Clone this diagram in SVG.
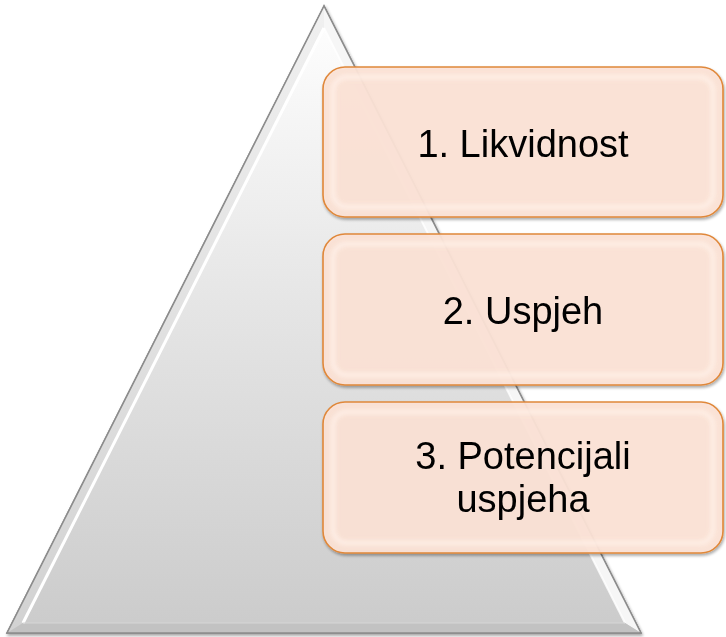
<svg xmlns="http://www.w3.org/2000/svg" width="726" height="637" viewBox="0 0 726 637">
<defs>
<linearGradient id="triFill" x1="0" y1="0" x2="0" y2="1">
<stop offset="0" stop-color="#ffffff"/>
<stop offset="0.5" stop-color="#e4e4e4"/>
<stop offset="1" stop-color="#cbcbcb"/>
</linearGradient>
<linearGradient id="leftBand" x1="0" y1="0" x2="0" y2="1">
<stop offset="0" stop-color="#f0f0f0"/>
<stop offset="1" stop-color="#d2d2d2"/>
</linearGradient>
<filter id="shadow" x="-10%" y="-10%" width="120%" height="120%">
<feGaussianBlur in="SourceAlpha" stdDeviation="1.5"/>
<feOffset dx="1" dy="2"/>
<feComponentTransfer><feFuncA type="linear" slope="0.35"/></feComponentTransfer>
<feMerge><feMergeNode/><feMergeNode in="SourceGraphic"/></feMerge>
</filter>
<filter id="soft"><feGaussianBlur stdDeviation="2"/></filter>
</defs>
<style>
.box{fill:#fde3d6;fill-opacity:0.93;stroke:#e0883a;stroke-width:1.6}
.inner{fill:none;stroke:#fff1e9;stroke-width:5;opacity:0.8}
.lbl{font-family:"Liberation Sans",Arial,sans-serif;font-size:38px;fill:#000;text-anchor:middle}
</style>
<g id="pyramid" filter="url(#shadow)">
<polygon points="324,6 7,633 641,633" fill="url(#triFill)" stroke="#8c8c8c" stroke-width="1.5"/>
<polygon points="324,6 7,633 23,623 324,28" fill="url(#leftBand)"/>
<polygon points="324,6 641,633 625,623 324,28" fill="#f6f6f6"/>
<polygon points="7,633 641,633 625,623 23,623" fill="#c2c2c2"/>
<polyline points="324,28 23,623" fill="none" stroke="#ffffff" stroke-width="3"/>
<polyline points="324,28 625,623" fill="none" stroke="#ffffff" stroke-width="2" opacity="0.8"/>
<polyline points="23,623 625,623" fill="none" stroke="#d6d6d6" stroke-width="1"/>
<polygon points="324,6 7,633 641,633" fill="none" stroke="#8c8c8c" stroke-width="1.5"/>
</g>
<g id="connectors"/>
<g id="box1" filter="url(#shadow)">
<rect class="box" x="323" y="67" width="400" height="150" rx="22"/>
<rect class="inner" x="333" y="77" width="380" height="130" rx="14" filter="url(#soft)"/>
<text class="lbl" x="523" y="157">1. Likvidnost</text>
</g>
<g id="box2" filter="url(#shadow)">
<rect class="box" x="323" y="234" width="400" height="151" rx="22"/>
<rect class="inner" x="333" y="244" width="380" height="131" rx="14" filter="url(#soft)"/>
<text class="lbl" x="523" y="324">2. Uspjeh</text>
</g>
<g id="box3" filter="url(#shadow)">
<rect class="box" x="323" y="402" width="400" height="151" rx="22"/>
<rect class="inner" x="333" y="412" width="380" height="131" rx="14" filter="url(#soft)"/>
<text class="lbl" x="523" y="469">3. Potencijali</text>
<text class="lbl" x="523" y="512">uspjeha</text>
</g>
</svg>
